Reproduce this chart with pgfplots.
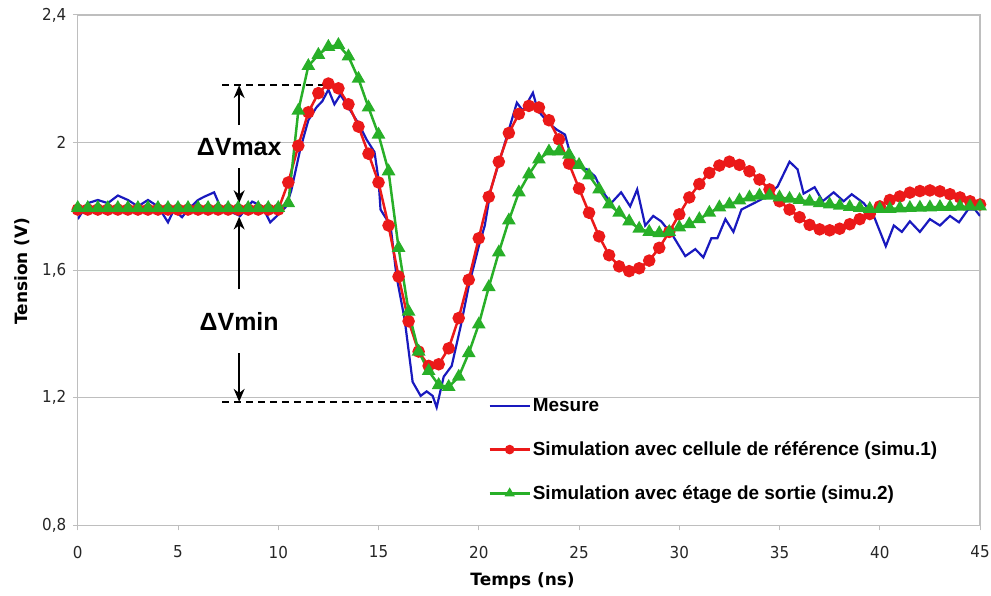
\documentclass[border=0pt]{standalone}
\usepackage{fontspec}
\setmainfont{Liberation Sans}
\newfontfamily\tickfont[FakeStretch=0.92]{DejaVu Sans}
\newfontfamily\labelfont{DejaVu Sans}
\usepackage{pgfplots}
\pgfplotsset{compat=1.18}
\usetikzlibrary{arrows.meta}
\definecolor{mesure}{RGB}{25,25,190}
\definecolor{simuA}{RGB}{235,25,25}
\definecolor{simuB}{RGB}{40,175,40}
\definecolor{gridgray}{RGB}{190,190,190}

\begin{document}
\begin{tikzpicture}
\begin{axis}[
    scale only axis,
    width=905bp, height=512bp,
    xmin=0, xmax=45, ymin=0.8, ymax=2.4,
    xtick={0,5,...,45},
    ytick={0.8,1.2,1.6,2,2.4},
    yticklabels={{0,8},{1,2},{1,6},{2},{2,4}},
    ymajorgrids,
    grid style={gridgray, line width=0.8bp},
    axis line style={gridgray, line width=1.2bp},
    tick align=outside, major tick length=5bp,
    tick style={gridgray, line width=1bp},
    xtick pos=left, ytick pos=left,
    /pgf/number format/assume math mode=true,
    tick label style={font=\tickfont\fontsize{16.5bp}{20bp}\selectfont, text=black!85},
    xticklabel style={yshift=-12bp},
    yticklabel style={xshift=-3bp},
    xlabel={Temps (ns)}, ylabel={Tension (V)},
    label style={font=\labelfont\bfseries\fontsize{17bp}{20bp}\selectfont},
    xlabel style={at={(axis description cs:0.493,-0.1095)}, anchor=center},
    ylabel style={at={(axis description cs:-0.0619,0.498)}, anchor=center},
    legend style={draw=none, fill=none, at={(axis description cs:0.455,0.252)},
        anchor=north west, inner sep=0pt, row sep=24.5bp,
        font=\bfseries\fontsize{19bp}{22bp}\selectfont},
    legend cell align=left,
    legend image code/.code={\draw[mark repeat=2,mark phase=2,#1,mark size=3.5bp]
        plot coordinates {(0bp,0bp) (20bp,0bp) (40bp,0bp)};},
]
% Mesure
\addplot[color=mesure, line width=2.2bp] coordinates {
(0,1.76) (0.5,1.81) (1,1.82) (1.5,1.81) (2,1.834) (2.5,1.82) (3,1.80) (3.5,1.82)
(4,1.80) (4.5,1.75) (4.8,1.79) (5.2,1.766) (5.5,1.79) (6,1.82) (6.3,1.83)
(6.8,1.844) (7.1,1.80) (7.6,1.784) (8.1,1.77) (8.7,1.815) (9.2,1.80) (9.6,1.75)
(10.1,1.78) (10.4,1.80) (10.65,1.85) (11.1,1.98) (11.5,2.07) (11.9,2.11)
(12.2,2.13) (12.5,2.166) (12.8,2.12) (13.1,2.15) (13.5,2.11) (14,2.06)
(14.4,2.01) (14.8,1.97) (15,1.884) (15.1,1.79) (15.6,1.74) (15.9,1.58)
(16.3,1.447) (16.7,1.25) (17.1,1.206) (17.4,1.22) (17.7,1.206) (17.9,1.17)
(18.25,1.266) (18.65,1.30) (19.1,1.425) (19.5,1.55) (20,1.675) (20.3,1.74)
(20.6,1.853) (21.1,1.956) (21.5,2.04) (21.9,2.125) (22.2,2.10) (22.7,2.156)
(22.95,2.10) (23.5,2.06) (23.9,2.04) (24.3,2.025) (24.6,1.956) (24.95,1.925)
(25.4,1.916) (25.8,1.894) (26.1,1.853) (26.6,1.81) (27.1,1.844) (27.55,1.80)
(27.9,1.853) (28.3,1.74) (28.7,1.77) (29.1,1.753) (29.7,1.706) (30.3,1.644)
(30.8,1.666) (31.2,1.64) (31.6,1.70) (31.9,1.70) (32.3,1.76) (32.7,1.72)
(33.1,1.79) (33.6,1.806) (34.1,1.822) (34.9,1.862) (35.5,1.94) (35.9,1.916)
(36.2,1.84) (36.75,1.86) (37.15,1.816) (37.7,1.844) (38.2,1.816) (38.6,1.838)
(39.2,1.81) (39.7,1.77) (40.3,1.675) (40.7,1.74) (41.1,1.72) (41.5,1.753)
(42,1.72) (42.5,1.76) (43,1.74) (43.5,1.77) (43.95,1.75) (44.4,1.79)
(44.75,1.79) (45,1.77)
};
\addlegendentry{Mesure}
% simu.1
\addplot[color=simuA, line width=2.5bp, mark=*, mark size=5bp,
    mark options={solid, fill=simuA, draw=simuA}] coordinates {
(0,1.79) (0.5,1.79) (1,1.79) (1.5,1.79) (2,1.79) (2.5,1.79) (3,1.79) (3.5,1.79)
(4,1.79) (4.5,1.79) (5,1.79) (5.5,1.79) (6,1.79) (6.5,1.79) (7,1.79) (7.5,1.79)
(8,1.79) (8.5,1.79) (9,1.79) (9.5,1.79) (10,1.79)
(10.5,1.875) (11,1.99) (11.5,2.095) (12,2.155) (12.5,2.185) (13,2.17)
(13.5,2.12) (14,2.05) (14.5,1.965) (15,1.875) (15.5,1.74) (16,1.58)
(16.5,1.44) (17,1.345) (17.5,1.30) (18,1.305) (18.5,1.355) (19,1.45)
(19.5,1.57) (20,1.70) (20.5,1.83) (21,1.94) (21.5,2.03) (22,2.09)
(22.5,2.115) (23,2.11) (23.5,2.07) (24,2.01) (24.5,1.934) (25,1.856)
(25.5,1.78) (26,1.706) (26.5,1.647) (27,1.612) (27.5,1.597) (28,1.606)
(28.5,1.63) (29,1.67) (29.5,1.72) (30,1.775) (30.5,1.828) (31,1.87)
(31.5,1.905) (32,1.928) (32.5,1.94) (33,1.93) (33.5,1.91) (34,1.884)
(34.5,1.853) (35,1.816) (35.5,1.79) (36,1.766) (36.5,1.742) (37,1.728)
(37.5,1.725) (38,1.73) (38.5,1.744) (39,1.76) (39.5,1.776) (40,1.80)
(40.5,1.82) (41,1.831) (41.5,1.843) (42,1.848) (42.5,1.85) (43,1.847)
(43.5,1.838) (44,1.828) (44.5,1.816) (45,1.806)
};
\addlegendentry{Simulation avec cellule de référence (simu.1)}
% simu.2
\addplot[color=simuB, line width=2.5bp, mark=triangle*, mark size=5.5bp,
    mark options={solid, fill=simuB, draw=simuB}] coordinates {
(0,1.795) (0.5,1.795) (1,1.795) (1.5,1.795) (2,1.795) (2.5,1.795) (3,1.795)
(3.5,1.795) (4,1.795) (4.5,1.795) (5,1.795) (5.5,1.795) (6,1.795) (6.5,1.795)
(7,1.795) (7.5,1.795) (8,1.795) (8.5,1.795) (9,1.795) (9.5,1.795) (10,1.795)
(10.5,1.81) (11,2.10) (11.5,2.24) (12,2.275) (12.5,2.30) (13,2.306)
(13.5,2.27) (14,2.20) (14.5,2.11) (15,2.025) (15.5,1.91) (16,1.67)
(16.5,1.47) (17,1.345) (17.5,1.284) (18,1.24) (18.5,1.234) (19,1.266)
(19.5,1.34) (20,1.43) (20.5,1.547) (21,1.656) (21.5,1.756) (22,1.844)
(22.5,1.90) (23,1.947) (23.5,1.972) (24,1.972) (24.5,1.962) (25,1.93)
(25.5,1.897) (26,1.853) (26.5,1.806) (27,1.78) (27.5,1.753) (28,1.73)
(28.5,1.72) (29,1.716) (29.5,1.72) (30,1.734) (30.5,1.744) (31,1.76)
(31.5,1.78) (32,1.797) (32.5,1.806) (33,1.819) (33.5,1.828) (34,1.834)
(34.5,1.834) (35,1.828) (35.5,1.824) (36,1.82) (36.5,1.815) (37,1.81)
(37.5,1.806) (38,1.802) (38.5,1.798) (39,1.795) (39.5,1.792) (40,1.792)
(40.5,1.792) (41,1.794) (41.5,1.795) (42,1.796) (42.5,1.797) (43,1.798)
(43.5,1.798) (44,1.799) (44.5,1.80) (45,1.80)
};
\addlegendentry{Simulation avec étage de sortie (simu.2)}

% annotations
\draw[black, line width=2bp, dash pattern=on 7bp off 5bp]
    (axis cs:7.2,2.18) -- (axis cs:12.6,2.18);
\draw[black, line width=2bp, dash pattern=on 7bp off 5bp]
    (axis cs:7.2,1.1875) -- (axis cs:17.8,1.1875);
\draw[black, line width=1.6bp, -{Stealth[length=13bp,width=11bp]}]
    (axis cs:8.05,2.055) -- (axis cs:8.05,2.18);
\draw[black, line width=1.6bp, -{Stealth[length=13bp,width=11bp]}]
    (axis cs:8.05,1.92) -- (axis cs:8.05,1.81);
\node[font=\bfseries\fontsize{25bp}{30bp}\selectfont] at (axis cs:8.05,1.985) {ΔVmax};
\draw[black, line width=1.6bp, -{Stealth[length=13bp,width=11bp]}]
    (axis cs:8.05,1.54) -- (axis cs:8.05,1.768);
\node[font=\bfseries\fontsize{25bp}{30bp}\selectfont] at (axis cs:8.05,1.44) {ΔVmin};
\draw[black, line width=1.6bp, -{Stealth[length=13bp,width=11bp]}]
    (axis cs:8.05,1.34) -- (axis cs:8.05,1.1875);
\end{axis}
\pgfresetboundingbox
\path[use as bounding box] (-78bp,-70bp) rectangle (916bp,527bp);
\end{tikzpicture}
\end{document}
